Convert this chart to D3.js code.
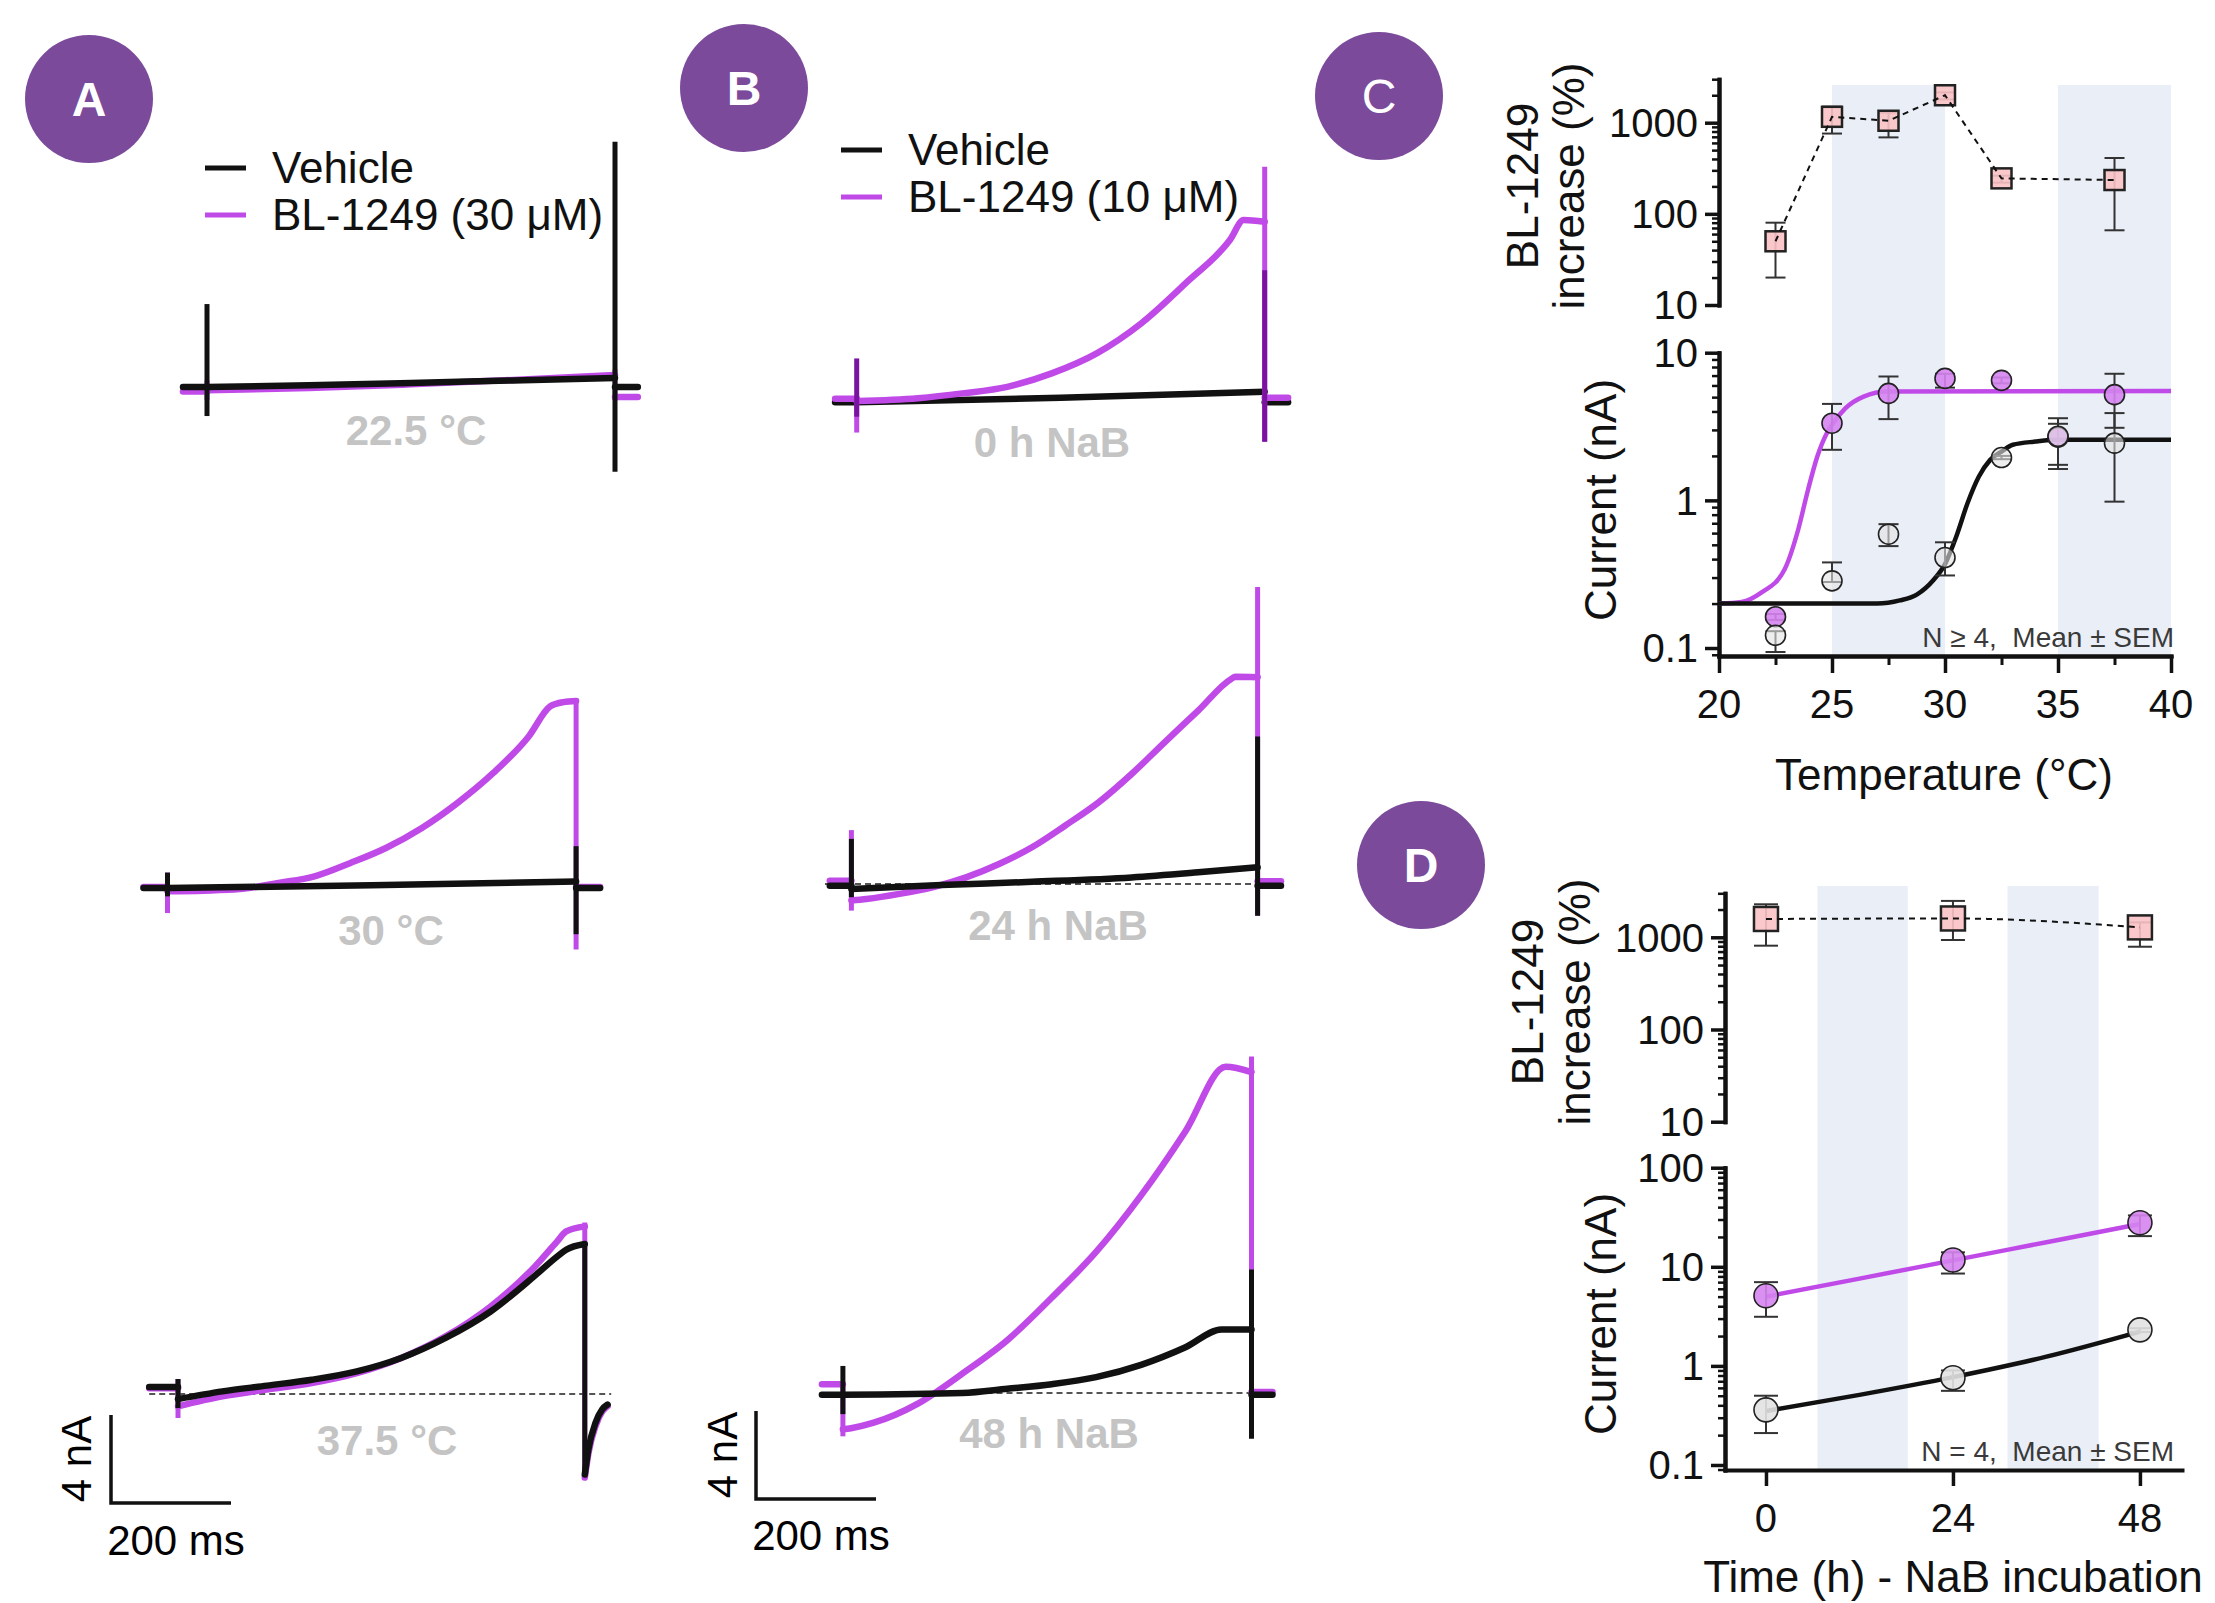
<!DOCTYPE html>
<html><head><meta charset="utf-8">
<script src="https://cdn.jsdelivr.net/npm/d3@7/dist/d3.min.js"></script>
<style>
html,body{margin:0;padding:0;background:#fff;}
svg text{font-family:"Liberation Sans",Arial,sans-serif;}
</style></head><body>
<svg id="fig" width="2215" height="1603" xmlns="http://www.w3.org/2000/svg"></svg>
<script>
// ================= DATA =================
// --- Panels A/B: current traces (time: ms from pulse onset, current: nA vs. holding) ---
const A1_t = [0, 170, 340, 510, 680];
const A1_veh = [0, 0.08, 0.18, 0.30, 0.41];
const A1_bl = [-0.15, -0.05, 0.12, 0.32, 0.55];
const A1_vehSpikes = [3.77, -1.32, 11.15, -3.85];
const A1_blSpikes = [0.3, -0.6, 0.8, -0.6];
const A1_vehHold = [0, 0];
const A1_blHold = [-0.2, -0.45];
const A1_window = [-40, 718];

const A2_t = [0, 60, 120, 185, 245, 305, 364, 424, 483, 543, 602, 638, 660, 681];
const A2_bl = [-0.15, -0.12, -0.05, 0.23, 0.53, 1.14, 1.82, 2.73, 3.86, 5.23, 6.89, 8.26, 8.45, 8.5];
const A2_vehT = [0, 340, 681];
const A2_veh = [0, 0.12, 0.30];
const A2_vehSpikes = [0.7, -0.38, 1.9, -2.1];
const A2_blSpikes = [0.7, -1.14, 8.6, -2.8];
const A2_vehHold = [0, 0];
const A2_blHold = [0.05, 0.05];
const A2_window = [-40, 721];

const A3_t = [0, 74, 148, 223, 298, 372, 446, 521, 595, 632, 647, 678];
const A3_veh = [-0.23, 0.12, 0.38, 0.65, 1.03, 1.64, 2.55, 3.75, 5.38, 6.25, 6.56, 6.82];
const A3_bl = [-0.56, -0.11, 0.2, 0.5, 0.95, 1.64, 2.62, 3.98, 5.8, 6.94, 7.39, 7.62];
const A3_vehSpikes = [0.68, -0.64, 6.82, -3.66];
const A3_blSpikes = [0.68, -1.09, 7.8, -3.8];
const A3_vehHold = [0.32, 0];
const A3_blHold = [0.26, 0];
const A3_tailT = [678, 684, 696, 707, 716];
const A3_vehTail = [-3.66, -2.52, -1.3, -0.7, -0.48];
const A3_blTail = [-3.8, -2.7, -1.45, -0.8, -0.55];
const A3_window = [-48, 716];
const A3_zero = [-48, 722];

const B1_t = [0, 102, 176, 251, 325, 400, 474, 548, 622, 645, 680];
const B1_bl = [-0.05, 0.08, 0.3, 0.6, 1.21, 2.12, 3.48, 5.3, 7.27, 8.18, 8.1];
const B1_vehT = [0, 340, 680];
const B1_veh = [-0.1, 0.1, 0.38];
const B1_vehSpikes = [1.89, -0.76, 5.9, -1.9];
const B1_blSpikes = [0.2, -1.48, 10.6, -1.9];
const B1_vehHold = [-0.1, -0.1];
const B1_blHold = [0.06, 0.1];
const B1_window = [-36, 719];

const B2_t = [0, 25, 80, 135, 191, 246, 301, 356, 412, 467, 522, 578, 633, 640, 677];
const B2_bl = [-0.75, -0.68, -0.45, -0.15, 0.3, 0.91, 1.67, 2.65, 3.71, 5.0, 6.44, 7.88, 9.32, 9.42, 9.4];
const B2_vehT = [0, 150, 301, 467, 578, 677];
const B2_veh = [-0.23, -0.05, 0.1, 0.3, 0.53, 0.76];
const B2_vehSpikes = [2.05, -0.6, 6.7, -1.44];
const B2_blSpikes = [2.45, -1.21, 13.5, -1.44];
const B2_vehHold = [-0.08, -0.08];
const B2_blHold = [0.15, 0.12];
const B2_window = [-36, 716];
const B2_zero = [-44, 716];

const B3_t = [0, 13.5, 50, 125, 199, 274, 348, 422, 497, 571, 638, 681];
const B3_bl = [-1.65, -1.6, -1.36, -0.48, 0.88, 2.40, 4.33, 6.41, 8.98, 11.9, 14.83, 14.59];
const B3_vehT = [0, 199, 274, 348, 422, 497, 571, 631, 681];
const B3_veh = [-0.08, 0, 0.19, 0.40, 0.72, 1.28, 2.08, 2.89, 2.89];
const B3_vehSpikes = [1.23, -0.96, 5.61, -2.08];
const B3_blSpikes = [0.4, -1.97, 15.3, -2.0];
const B3_vehHold = [-0.08, -0.08];
const B3_blHold = [0.40, 0.05];
const B3_window = [-35, 716];
const B3_zero = [6, 720];

const conditionLabels = ["22.5 °C", "30 °C", "37.5 °C", "0 h NaB", "24 h NaB", "48 h NaB"];
const legendA = ["Vehicle", "BL-1249 (30 μM)"];
const legendB = ["Vehicle", "BL-1249 (10 μM)"];
const scaleBar = [200, 4]; // ms, nA

// --- Panel C: temperature dependence ---
const tempC = [22.5, 25, 27.5, 30, 32.5, 35, 37.5];
const blC = [0.163, 3.33, 5.3, 6.7, 6.5, 2.68, 5.2];
const blC_lo = [0.155, 2.2, 3.55, 5.8, 6.2, 1.63, 3.1];
const blC_hi = [0.17, 4.5, 6.9, 7.2, 6.8, 3.6, 7.2];
const vehC = [0.122, 0.285, 0.59, 0.41, 1.95, 2.72, 2.44];
const vehC_lo = [0.094, 0.28, 0.49, 0.31, 1.9, 1.74, 0.98];
const vehC_hi = [0.13, 0.38, 0.69, 0.52, 2.0, 3.3, 3.9];
const fitTempBlC = [20, 21, 21.87, 22.9, 23.5, 23.94, 24.35, 24.77, 25, 25.6, 26.4, 27.46, 40];
const fitBlC = [0.2, 0.205, 0.237, 0.34, 0.63, 1.18, 1.98, 2.85, 3.25, 4.21, 5.04, 5.45, 5.5];
const fitTempVehC = [20, 27, 28, 28.75, 29.5, 30, 30.5, 31, 31.5, 32, 32.5, 33, 34, 35, 40];
const fitVehC = [0.2, 0.2, 0.21, 0.23, 0.29, 0.37, 0.57, 0.96, 1.45, 1.88, 2.14, 2.38, 2.5, 2.57, 2.57];
const incTempC = [22.5, 25, 27.5, 30, 32.5, 37.5];
const incC = [50, 1160, 1050, 2000, 245, 235];
const incC_lo = [20, 760, 690, 1800, 220, 66];
const incC_hi = [80, 1500, 1290, 2150, 262, 410];
const bandsC = [[25, 30], [35, 40]];
const tickC_x = [20, 25, 30, 35, 40];
const minorC_x = [22.5, 27.5, 32.5, 37.5];
const tickC_top = [10, 100, 1000];
const tickC_low = [0.1, 1, 10];

// --- Panel D: NaB incubation time ---
const timeD = [0, 24, 48];
const incD = [1580, 1600, 1280];
const incD_lo = [811, 935, 790];
const incD_hi = [2280, 2480, 1450];
const blD = [5.1, 11.7, 27.8];
const blD_lo = [3.13, 8.55, 20.4];
const blD_hi = [7.0, 14.0, 33.0];
const vehD = [0.36, 0.76, 2.31];
const vehD_lo = [0.21, 0.56, 2.2];
const vehD_hi = [0.5, 0.9, 2.4];
const fitTimeD = [0, 12, 24, 36, 48];
const fitBlD = [5.0, 7.6, 11.6, 17.7, 27.0];
const fitVehD = [0.35, 0.51, 0.77, 1.24, 2.22];
const bandsD = [[6.6, 18.2], [31, 42.7]];
const tickD_x = [0, 24, 48];
const tickD_top = [10, 100, 1000];
const tickD_low = [0.1, 1, 10, 100];

// ================= DRAWING =================
const svg = d3.select("#fig");
const PURPLE = "#c04ae8";
const INK = "#111111";
const OVERLAP = "#7a14a0";
const BAND = "#e9eef7";
const MARK_P = "#d584f0";
const MARK_V = "#e2e2e2";
const SQ = "#f9c2c4";

// ---- panel letters ----
const letters = [["A", 89, 99, "bold"], ["B", 744, 88, "bold"], ["C", 1379, 96, "normal"], ["D", 1421, 865, "bold"]];
letters.forEach(([L, x, y, w]) => {
  svg.append("circle").attr("cx", x).attr("cy", y).attr("r", 64).attr("fill", "#7b4a9b");
  svg.append("text").attr("x", x).attr("y", y).attr("dy", "0.36em").attr("text-anchor", "middle")
    .attr("font-size", 48).attr("font-weight", w).attr("fill", "#fff").text(L);
});

// ---- traces ----
function traceScales(x0, y0) {
  return {
    x: d3.scaleLinear().domain([0, scaleBar[0]]).range([x0, x0 + 120]),
    y: d3.scaleLinear().domain([0, scaleBar[1]]).range([y0, y0 - 88])
  };
}
function drawTrace(g, sc, tr, win, color, spikeColor) {
  const grp = g.append("g");
  const lin = d3.line().x(d => sc.x(d[0])).y(d => sc.y(d[1]));
  const smooth = d3.line().x(d => sc.x(d[0])).y(d => sc.y(d[1])).curve(d3.curveMonotoneX);
  const tEnd = tr.t[tr.t.length - 1];
  const post = tr.tailT ? d3.zip(tr.tailT, tr.tailI) : [[tEnd, tr.hold[1]], [win[1], tr.hold[1]]];
  [lin([[win[0], tr.hold[0]], [0, tr.hold[0]]]), smooth(d3.zip(tr.t, tr.I)), smooth(post)].forEach(d =>
    grp.append("path").attr("d", d).attr("fill", "none").attr("stroke", color).attr("stroke-width", 6.5)
      .attr("stroke-linejoin", "round").attr("stroke-linecap", "round"));
  return () => [[0, tr.spk[0], tr.spk[1]], [tEnd, tr.spk[2], tr.spk[3]]].forEach(([t, a, b]) =>
    g.append("line").attr("x1", sc.x(t)).attr("x2", sc.x(t)).attr("y1", sc.y(a)).attr("y2", sc.y(b))
      .attr("stroke", spikeColor || color).attr("stroke-width", 5));
}
const tracePanels = [
  { o: [207, 387], win: A1_window, zero: null, top: "veh",
    veh: { t: A1_t, I: A1_veh, spk: A1_vehSpikes, hold: A1_vehHold },
    bl: { t: A1_t, I: A1_bl, spk: A1_blSpikes, hold: A1_blHold }, label: [416, 445] },
  { o: [167.5, 888], win: A2_window, zero: null, top: "veh",
    veh: { t: A2_vehT, I: A2_veh, spk: A2_vehSpikes, hold: A2_vehHold },
    bl: { t: A2_t, I: A2_bl, spk: A2_blSpikes, hold: A2_blHold }, label: [391, 945] },
  { o: [178, 1394], win: A3_window, zero: A3_zero, top: "veh",
    veh: { t: A3_t, I: A3_veh, spk: A3_vehSpikes, hold: A3_vehHold, tailT: A3_tailT, tailI: A3_vehTail },
    bl: { t: A3_t, I: A3_bl, spk: A3_blSpikes, hold: A3_blHold, tailT: A3_tailT, tailI: A3_blTail }, label: [387, 1455] },
  { o: [856.7, 400], win: B1_window, zero: null, top: "bl",
    veh: { t: B1_vehT, I: B1_veh, spk: B1_vehSpikes, hold: B1_vehHold },
    bl: { t: B1_t, I: B1_bl, spk: B1_blSpikes, hold: B1_blHold }, label: [1052, 457] },
  { o: [851.4, 884], win: B2_window, zero: B2_zero, top: "veh",
    veh: { t: B2_vehT, I: B2_veh, spk: B2_vehSpikes, hold: B2_vehHold },
    bl: { t: B2_t, I: B2_bl, spk: B2_blSpikes, hold: B2_blHold }, label: [1058, 940] },
  { o: [842.9, 1393], win: B3_window, zero: B3_zero, top: "veh",
    veh: { t: B3_vehT, I: B3_veh, spk: B3_vehSpikes, hold: B3_vehHold },
    bl: { t: B3_t, I: B3_bl, spk: B3_blSpikes, hold: B3_blHold }, label: [1049, 1448] }
];
tracePanels.forEach((p, i) => {
  const sc = traceScales(p.o[0], p.o[1]);
  const g = svg.append("g");
  if (p.zero) g.append("line").attr("x1", sc.x(p.zero[0])).attr("x2", sc.x(p.zero[1]))
    .attr("y1", sc.y(0)).attr("y2", sc.y(0)).attr("stroke", "#555").attr("stroke-width", 2).attr("stroke-dasharray", "6,4");
  if (p.top === "veh") {
    const s1 = drawTrace(g, sc, p.bl, p.win, PURPLE); s1();
    const s2 = drawTrace(g, sc, p.veh, p.win, INK); s2();
  } else {
    const s1 = drawTrace(g, sc, p.veh, p.win, INK, OVERLAP);
    const s2 = drawTrace(g, sc, p.bl, p.win, PURPLE); s2(); s1();
  }
  svg.append("text").attr("x", p.label[0]).attr("y", p.label[1]).attr("text-anchor", "middle")
    .attr("font-size", 42).attr("font-weight", "bold").attr("fill", "#c4c4c4").text(conditionLabels[i]);
});

// ---- legends ----
function legend(items, x, y) {
  items.forEach((t, i) => {
    const yy = y + i * 47;
    svg.append("line").attr("x1", x).attr("x2", x + 41).attr("y1", yy).attr("y2", yy)
      .attr("stroke", i === 0 ? INK : PURPLE).attr("stroke-width", 5);
    svg.append("text").attr("x", x + 67).attr("y", yy + 15).attr("font-size", 44).attr("fill", INK).text(t);
  });
}
legend(legendA, 205, 168);
legend(legendB, 841, 150);

// ---- scale bars ----
function scaleBarAt(x, y, labX, labY, vX, vY) {
  const sc = traceScales(x, y);
  svg.append("path").attr("d", `M${sc.x(0)},${sc.y(scaleBar[1])}V${sc.y(0)}H${sc.x(scaleBar[0])}`)
    .attr("fill", "none").attr("stroke", INK).attr("stroke-width", 3.5);
  svg.append("text").attr("x", labX).attr("y", labY).attr("text-anchor", "middle").attr("font-size", 42).text(scaleBar[0] + " ms");
  svg.append("text").attr("transform", `translate(${vX},${vY}) rotate(-90)`).attr("text-anchor", "middle")
    .attr("font-size", 42).text(scaleBar[1] + " nA");
}
scaleBarAt(111, 1503, 176, 1555, 91, 1459);
scaleBarAt(756, 1499, 821, 1550, 737, 1455);

// ---- helpers for C & D ----
const isMajor = v => Math.abs(Math.log10(v) - Math.round(Math.log10(v))) < 1e-9;
const fmt = v => v >= 1 ? d3.format("d")(v) : String(v);
function styleAxis(g, w) {
  g.selectAll(".domain").attr("stroke", INK).attr("stroke-width", 4).attr("stroke-linecap", "square");
  g.selectAll(".tick line").attr("stroke", INK).attr("stroke-width", w);
  g.selectAll(".tick text").remove();
}
function logAxisLeft(scale, x, majors) {
  const minors = scale.ticks().filter(v => !isMajor(v));
  const gm = svg.append("g").attr("transform", `translate(${x},0)`)
    .call(d3.axisLeft(scale).tickValues(minors).tickSize(7).tickSizeOuter(0).tickFormat(""));
  styleAxis(gm, 2.5);
  const gM = svg.append("g").attr("transform", `translate(${x},0)`)
    .call(d3.axisLeft(scale).tickValues(majors).tickSize(14).tickSizeOuter(0).tickFormat(""));
  styleAxis(gM, 3.5);
  majors.forEach(v => svg.append("text").attr("x", x - 21).attr("y", scale(v)).attr("dy", "0.36em")
    .attr("text-anchor", "end").attr("font-size", 40).attr("fill", INK).text(fmt(v)));
}
function yTitle(lines, xs, yc) {
  lines.forEach((t, i) => svg.append("text").attr("transform", `translate(${xs[i]},${yc}) rotate(-90)`)
    .attr("text-anchor", "middle").attr("font-size", 44).attr("fill", INK).text(t));
}
function errBars(xs, lo, hi, xS, yS, cap) {
  xs.forEach((x, i) => {
    const cx = xS(x);
    svg.append("line").attr("x1", cx).attr("x2", cx).attr("y1", yS(lo[i])).attr("y2", yS(hi[i]))
      .attr("stroke", "#333").attr("stroke-width", 2);
    [lo[i], hi[i]].forEach(v => svg.append("line").attr("x1", cx - cap).attr("x2", cx + cap)
      .attr("y1", yS(v)).attr("y2", yS(v)).attr("stroke", "#333").attr("stroke-width", 2));
  });
}
function circles(xs, ys, xS, yS, r, fill, op) {
  svg.append("g").selectAll("circle").data(d3.zip(xs, ys)).join("circle")
    .attr("cx", d => xS(d[0])).attr("cy", d => yS(d[1])).attr("r", r)
    .attr("fill", fill).attr("fill-opacity", op).attr("stroke", "#222").attr("stroke-width", 1.6);
}
function squares(xs, ys, xS, yS, s) {
  svg.append("g").selectAll("rect").data(d3.zip(xs, ys)).join("rect")
    .attr("x", d => xS(d[0]) - s / 2).attr("y", d => yS(d[1]) - s / 2).attr("width", s).attr("height", s)
    .attr("fill", SQ).attr("fill-opacity", 0.9).attr("stroke", "#222").attr("stroke-width", 2.5);
}
function fitLine(xs, ys, xS, yS, color) {
  svg.append("path").attr("d", d3.line().x(d => xS(d[0])).y(d => yS(d[1])).curve(d3.curveMonotoneX)(d3.zip(xs, ys)))
    .attr("fill", "none").attr("stroke", color).attr("stroke-width", 4.5);
}

// ================= PANEL C =================
const xC = d3.scaleLinear().domain([20, 40]).range([1719, 2171]);
const yCt = d3.scaleLog().domain([10, 3000]).range([305, 79.2]);
const yCl = d3.scaleLog().domain([0.0883, 10]).range([656, 352.7]);
bandsC.forEach(b => svg.append("rect").attr("x", xC(b[0])).attr("width", xC(b[1]) - xC(b[0]))
  .attr("y", 85).attr("height", 656 - 85).attr("fill", BAND));

// top: % increase
logAxisLeft(yCt, 1719, tickC_top);
errBars(incTempC, incC_lo, incC_hi, xC, yCt, 10);
squares(incTempC, incC, xC, yCt, 20);
svg.append("path").attr("d", d3.line().x(d => xC(d[0])).y(d => yCt(d[1]))(d3.zip(incTempC, incC)))
  .attr("fill", "none").attr("stroke", INK).attr("stroke-width", 2).attr("stroke-dasharray", "6,5");
yTitle(["BL-1249", "increase (%)"], [1538, 1584], 186);

// bottom: current
logAxisLeft(yCl, 1719, tickC_low);
{
  const gm = svg.append("g").attr("transform", "translate(0,656)")
    .call(d3.axisBottom(xC).tickValues(minorC_x).tickSize(9).tickSizeOuter(0).tickFormat(""));
  styleAxis(gm, 3);
  const gM = svg.append("g").attr("transform", "translate(0,656)")
    .call(d3.axisBottom(xC).tickValues(tickC_x).tickSize(17).tickSizeOuter(0).tickFormat(""));
  styleAxis(gM, 3.5);
  tickC_x.forEach(v => svg.append("text").attr("x", xC(v)).attr("y", 718).attr("text-anchor", "middle")
    .attr("font-size", 40).attr("fill", INK).text(v));
}
fitLine(fitTempBlC, fitBlC, xC, yCl, PURPLE);
fitLine(fitTempVehC, fitVehC, xC, yCl, INK);
errBars(tempC, blC_lo, blC_hi, xC, yCl, 10);
errBars(tempC, vehC_lo, vehC_hi, xC, yCl, 10);
circles(tempC, blC, xC, yCl, 10, MARK_P, 0.9);
circles(tempC, vehC, xC, yCl, 10, MARK_V, 0.6);
yTitle(["Current (nA)"], [1616], 500);
svg.append("text").attr("x", 1944).attr("y", 790).attr("text-anchor", "middle").attr("font-size", 44)
  .attr("fill", INK).text("Temperature (°C)");
svg.append("text").attr("x", 2174).attr("y", 647).attr("text-anchor", "end").attr("font-size", 28)
  .attr("fill", "#3a3a3a").style("white-space", "pre").text("N ≥ 4,  Mean ± SEM");

// ================= PANEL D =================
const xD = d3.scaleLinear().domain([-5.26, 53.4]).range([1725, 2182]);
const yDt = d3.scaleLog().domain([10, 3000]).range([1121.7, 893.3]);
const yDl = d3.scaleLog().domain([0.089, 100]).range([1470, 1167.7]);
bandsD.forEach(b => svg.append("rect").attr("x", xD(b[0])).attr("width", xD(b[1]) - xD(b[0]))
  .attr("y", 886).attr("height", 1470 - 886).attr("fill", BAND));

logAxisLeft(yDt, 1725, tickD_top);
errBars(timeD, incD_lo, incD_hi, xD, yDt, 12);
squares(timeD, incD, xD, yDt, 24);
svg.append("path").attr("d", d3.line().x(d => xD(d[0])).y(d => yDt(d[1])).curve(d3.curveMonotoneX)(d3.zip(timeD, incD)))
  .attr("fill", "none").attr("stroke", INK).attr("stroke-width", 2).attr("stroke-dasharray", "6,5");
yTitle(["BL-1249", "increase (%)"], [1543, 1590], 1002);

logAxisLeft(yDl, 1725, tickD_low);
{
  const g = svg.append("g").attr("transform", "translate(0,1470)")
    .call(d3.axisBottom(xD).tickValues(tickD_x).tickSize(16).tickSizeOuter(0).tickFormat(""));
  styleAxis(g, 3.5);
  tickD_x.forEach(v => svg.append("text").attr("x", xD(v)).attr("y", 1532).attr("text-anchor", "middle")
    .attr("font-size", 40).attr("fill", INK).text(v));
}
fitLine(fitTimeD, fitBlD, xD, yDl, PURPLE);
fitLine(fitTimeD, fitVehD, xD, yDl, INK);
errBars(timeD, blD_lo, blD_hi, xD, yDl, 12);
errBars(timeD, vehD_lo, vehD_hi, xD, yDl, 12);
circles(timeD, blD, xD, yDl, 12, MARK_P, 0.9);
circles(timeD, vehD, xD, yDl, 12, MARK_V, 0.9);
yTitle(["Current (nA)"], [1616], 1314);
svg.append("text").attr("x", 1953).attr("y", 1592).attr("text-anchor", "middle").attr("font-size", 44)
  .attr("fill", INK).text("Time (h) - NaB incubation");
svg.append("text").attr("x", 2174).attr("y", 1461).attr("text-anchor", "end").attr("font-size", 28)
  .attr("fill", "#3a3a3a").style("white-space", "pre").text("N = 4,  Mean ± SEM");
</script>
</body></html>
